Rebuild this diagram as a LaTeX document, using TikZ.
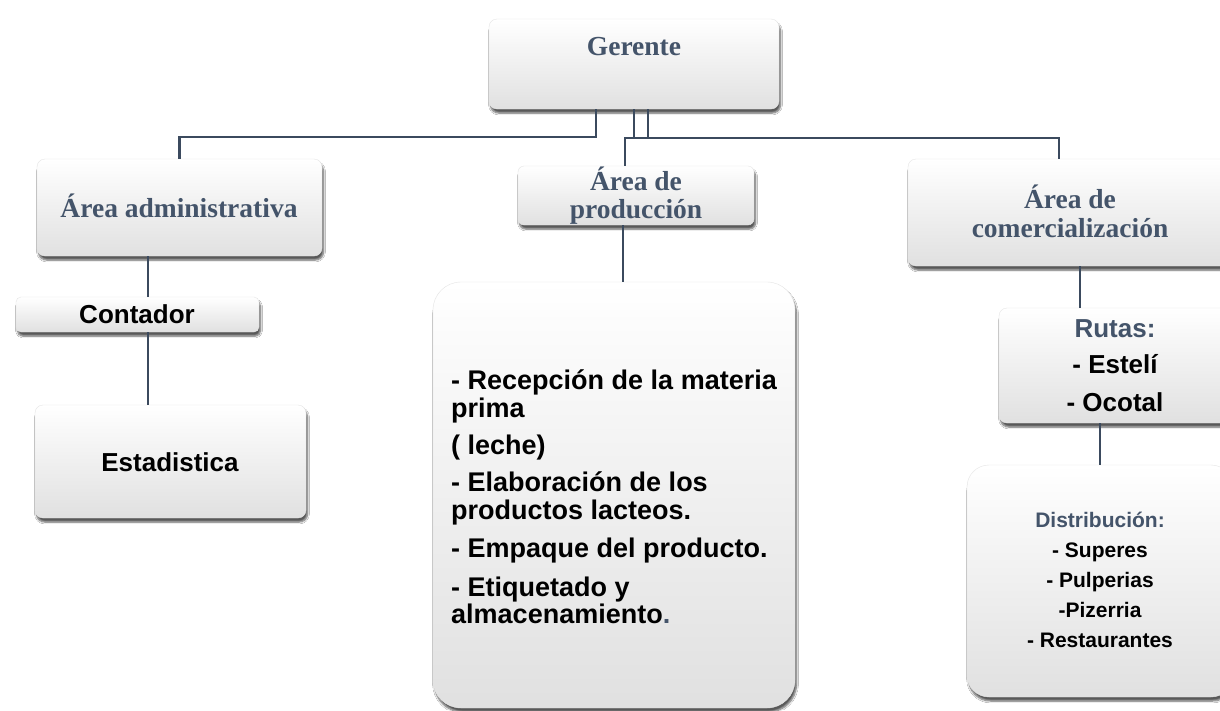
\documentclass[tikz,border=0pt]{standalone}
\usepackage{fontspec}
\setmainfont{Liberation Serif}
\newfontfamily\arialf{Liberation Sans}
\usetikzlibrary{shadows,shadows.blur}
\definecolor{slate}{RGB}{68,84,106}
\definecolor{linec}{RGB}{59,74,94}
\begin{document}
\begin{tikzpicture}[x=1pt,y=-1pt,
  box/.style={draw=black!10, line width=0.4pt, rounded corners=8pt,
    top color=white, bottom color=black!12, inner sep=0pt,
    blur shadow={shadow xshift=1.5pt, shadow yshift=-4pt, shadow opacity=65, shadow blur steps=6}},
  bigbox/.style={box, rounded corners=28pt},
  conn/.style={draw=linec, line width=2.5pt},
  ttl/.style={font=\fontsize{27.5}{29}\selectfont\bfseries, text=slate, anchor=base, inner sep=0pt},
  lbl/.style={font=\arialf\fontsize{26}{28}\selectfont\bfseries, text=black, anchor=base, inner sep=0pt},
  biglbl/.style={font=\arialf\fontsize{27}{28}\selectfont\bfseries, text=black, anchor=base west, inner sep=0pt},
  sml/.style={font=\arialf\fontsize{21}{23}\selectfont\bfseries, text=black, anchor=base, inner sep=0pt}]
\path[fill=white, use as bounding box] (0,0) rectangle (1220,710);

% boxes
\node[box, minimum width=290pt, minimum height=90pt] (g) at (634,64) {};
\node[box, minimum width=285pt, minimum height=97pt] (adm) at (179.5,207.5) {};
\node[box, rounded corners=5pt, minimum width=243pt, minimum height=35pt] (cont) at (137.5,314.5) {};
\node[box, minimum width=271pt, minimum height=113pt] (est) at (170.5,461.5) {};
\node[box, rounded corners=6pt, minimum width=236pt, minimum height=59pt] (prod) at (636,195.5) {};
\node[bigbox, minimum width=362pt, minimum height=426pt] (big) at (614,495) {};
\node[box, minimum width=324pt, minimum height=107pt] (com) at (1070,212.5) {};
\node[box, minimum width=232pt, minimum height=115pt] (rut) at (1115,365.5) {};
\node[bigbox, rounded corners=22pt, minimum width=266pt, minimum height=232pt] (dist) at (1100,581) {};

% connectors
\draw[conn] ([xshift=-38pt]g.south) -- ++(0,28) -| (adm.north);
\draw[conn] (g.south) -- ++(0,29.5);
\draw[conn] ([xshift=14pt]g.south) -- ++(0,29.5);
\draw[conn] ([xshift=-11pt]prod.north) -- ++(0,-28) -| ([xshift=-11pt]com.north);
\draw[conn] ([xshift=-31.5pt]adm.south) -- ([xshift=10.5pt]cont.north);
\draw[conn] ([xshift=10.5pt]cont.south) -- ([xshift=-22.5pt]est.north);
\draw[conn] ([xshift=-13pt]prod.south) -- ([xshift=9pt]big.north);
\draw[conn] ([xshift=10pt]com.south) -- ([xshift=-35pt]rut.north);
\draw[conn] ([xshift=-15pt]rut.south) -- (dist.north);

% texts
\node[ttl] (tg) at (634,55) {Gerente};
\node[ttl] (tadm) at (179,217) {Área administrativa};
\node[lbl] (tcont) at (137,323) {Contador};
\node[lbl] (test) at (170,471) {Estadistica};
\node[ttl] (tprod1) at (636,190) {Área de};
\node[ttl] (tprod2) at (636,218) {producción};
\node[ttl] (tcom1) at (1070,208) {Área de};
\node[ttl] (tcom2) at (1070,237) {comercialización};

\node[biglbl] (b1) at (451,389) {- Recepción de la materia};
\node[biglbl] (b2) at (451,417) {prima};
\node[biglbl] (b3) at (451,454) {( leche)};
\node[biglbl] (b4) at (451,491) {- Elaboración de los};
\node[biglbl] (b5) at (451,519) {productos lacteos.};
\node[biglbl] (b6) at (451,557) {- Empaque del producto.};
\node[biglbl] (b7) at (451,596) {- Etiquetado y};
\node[biglbl] (b8) at (451,623) {almacenamiento\textcolor{slate}{.}};

\node[lbl, text=slate] (r1) at (1115,337) {Rutas:};
\node[lbl] (r2) at (1115,373) {- Estelí};
\node[lbl] (r3) at (1115,411) {- Ocotal};

\node[sml, text=slate] (d1) at (1100,527) {Distribución:};
\node[sml] (d2) at (1100,557) {- Superes};
\node[sml] (d3) at (1100,587) {- Pulperias};
\node[sml] (d4) at (1100,617) {-Pizerria};
\node[sml] (d5) at (1100,647) {- Restaurantes};
\end{tikzpicture}
\end{document}
